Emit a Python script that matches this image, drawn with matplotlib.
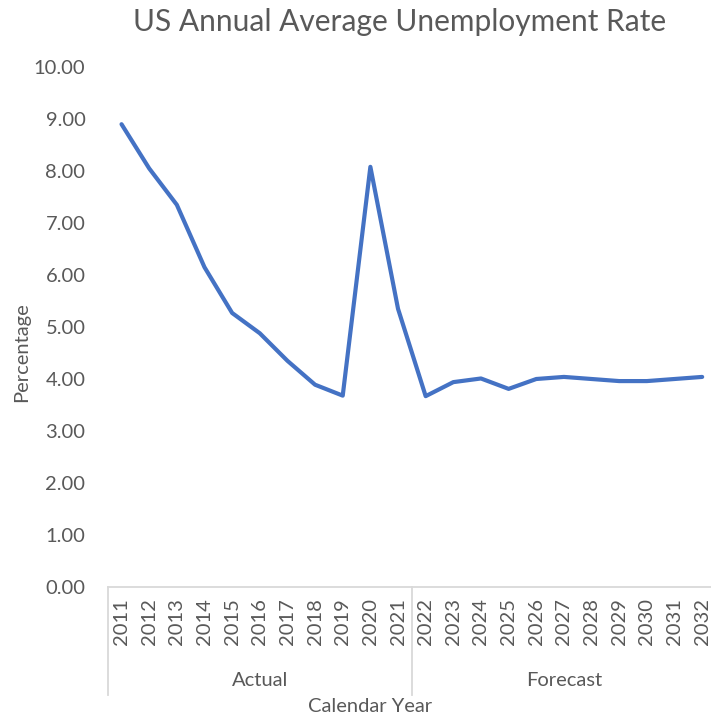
import matplotlib
matplotlib.use("Agg")
import matplotlib.pyplot as plt
import matplotlib.transforms as mtransforms

# annual average unemployment rate, actual then forecast
years = [str(y) for y in range(2011, 2033)]
rates = [8.90, 8.05, 7.35, 6.15, 5.27, 4.88, 4.35, 3.89, 3.68, 8.08, 5.35,
         3.67, 3.94, 4.01, 3.81, 4.00, 4.04, 4.00, 3.96, 3.96, 4.00, 4.04]
groups = ["Actual", "Forecast"]
groupSizes = [11, 11]
yTicks = [0, 1, 2, 3, 4, 5, 6, 7, 8, 9, 10]

textColor = "#595959"
lineColor = "#4472C4"
axisColor = "#D9D9D9"
fs = 14.5

plt.rcParams["font.family"] = ["Lato", "DejaVu Sans"]

fig = plt.figure(figsize=(7.11, 7.22), dpi=100)
ax = fig.add_axes([107.7 / 711, 135 / 722, 608.3 / 711, 520 / 722])

x = list(range(len(years)))
ax.plot(x, rates, color=lineColor, linewidth=3.0, solid_joinstyle="round",
        solid_capstyle="round")

ax.set_xlim(-0.5, len(years) - 0.5)
ax.set_ylim(0, 10)
ax.set_yticks(yTicks)
ax.set_yticklabels([f"{v:.2f}" for v in yTicks])
ax.set_xticks(x)
ax.set_xticklabels(years, rotation=90)
ax.tick_params(axis="both", length=0, labelsize=fs, colors=textColor)
ax.tick_params(axis="x", pad=8)
ax.tick_params(axis="y", pad=16)

for side in ["top", "right", "left"]:
    ax.spines[side].set_visible(False)
ax.spines["bottom"].set_color(axisColor)
ax.spines["bottom"].set_linewidth(1.3)

# group separators and labels under the year ticks
trans = mtransforms.blended_transform_factory(ax.transData, ax.transAxes)
lineBottom = -108 / 520
start = 0
edges = [-0.5]
for name, size in zip(groups, groupSizes):
    mid = start + (size - 1) / 2
    ax.text(mid, -93 / 520, name, transform=trans, ha="center", va="center",
            fontsize=fs, color=textColor)
    start += size
    edges.append(start - 0.5)
for e in edges:
    ax.plot([e, e], [0, lineBottom], transform=trans, color=axisColor,
            linewidth=1.3, clip_on=False)

fig.text(370 / 711, 1 - 707 / 722, "Calendar Year", ha="center", va="center",
         fontsize=fs, color=textColor)
fig.text(22 / 711, 1 - 352 / 722, "Percentage", ha="center", va="center",
         rotation=90, fontsize=fs, color=textColor)
fig.text(400 / 711, 1 - 22 / 722, "US Annual Average Unemployment Rate",
         ha="center", va="center", fontsize=21.5, color=textColor)

fig.savefig("out.png", dpi=100)
